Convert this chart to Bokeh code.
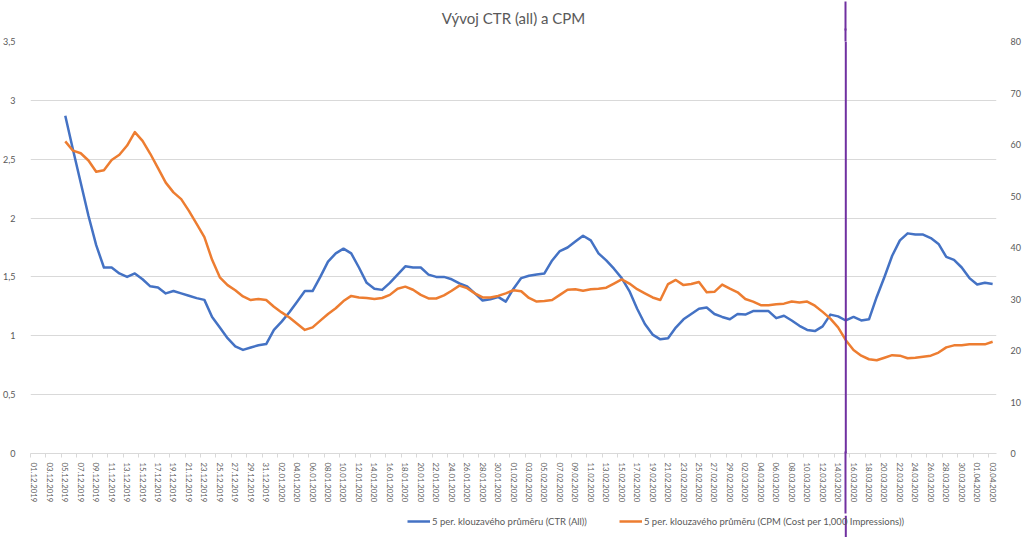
import numpy as np
import pandas as pd
from bokeh.plotting import figure
from bokeh.layouts import column
from bokeh.models import (Range1d, LinearAxis, FixedTicker, CustomJSTickFormatter,
                          Legend, LegendItem, Span, ColumnDataSource, Title)
from bokeh.embed import file_html
from bokeh.resources import INLINE

# ---------------- data ----------------
dates = [d.strftime("%d.%m.%Y") for d in pd.date_range("2019-12-01", "2020-04-03", freq="D")]
LEAD = 4  # moving average needs 4 previous days -> first 4 days empty

ctr = [2.87, 2.58, 2.30, 2.02, 1.77, 1.58, 1.58, 1.53, 1.50, 1.53,
       1.48, 1.42, 1.41, 1.36, 1.38, 1.36, 1.34, 1.32, 1.305, 1.16,
       1.07, 0.98, 0.91, 0.88, 0.90, 0.92, 0.93, 1.05, 1.12, 1.20,
       1.29, 1.38, 1.38, 1.50, 1.63, 1.70, 1.74, 1.70, 1.58, 1.45,
       1.40, 1.39, 1.45, 1.52, 1.59, 1.58, 1.58, 1.52, 1.50, 1.50,
       1.48, 1.445, 1.42, 1.36, 1.30, 1.31, 1.33, 1.29, 1.40, 1.49,
       1.51, 1.52, 1.53, 1.64, 1.72, 1.75, 1.80, 1.85, 1.81, 1.70,
       1.64, 1.57, 1.49, 1.38, 1.23, 1.10, 1.01, 0.97, 0.98, 1.07,
       1.14, 1.185, 1.23, 1.24, 1.185, 1.16, 1.14, 1.185, 1.18, 1.21,
       1.21, 1.21, 1.15, 1.17, 1.13, 1.085, 1.05, 1.04, 1.08, 1.18,
       1.165, 1.13, 1.16, 1.13, 1.14, 1.33, 1.50, 1.68, 1.81, 1.87,
       1.86, 1.86, 1.83, 1.78, 1.67, 1.645, 1.58, 1.49, 1.435, 1.45,
       1.44]

cpm = [60.6, 58.8, 58.3, 56.9, 54.7, 55.0, 57.0, 58.0, 59.8, 62.4,
       60.7, 58.2, 55.4, 52.6, 50.7, 49.4, 47.1, 44.6, 42.0, 37.6,
       34.2, 32.7, 31.7, 30.5, 29.8, 30.0, 29.8, 28.5, 27.4, 26.4,
       25.2, 24.0, 24.5, 25.8, 27.1, 28.2, 29.6, 30.6, 30.3, 30.2,
       30.0, 30.2, 30.8, 32.0, 32.4, 31.8, 30.8, 30.1, 30.1, 30.7,
       31.6, 32.6, 32.1, 31.1, 30.3, 30.3, 30.6, 31.1, 31.7, 31.5,
       30.2, 29.5, 29.6, 29.8, 30.8, 31.8, 31.9, 31.6, 31.9, 32.0,
       32.2, 33.0, 33.8, 33.0, 31.9, 31.1, 30.3, 29.8, 32.9, 33.7,
       32.7, 32.9, 33.3, 31.3, 31.4, 32.8, 32.0, 31.3, 30.0, 29.5,
       28.8, 28.8, 29.0, 29.1, 29.5, 29.3, 29.5, 28.7, 27.5, 26.2,
       24.5, 22.0, 20.1, 19.0, 18.3, 18.1, 18.6, 19.1, 19.0, 18.5,
       18.6, 18.8, 19.0, 19.6, 20.6, 21.0, 21.0, 21.2, 21.2, 21.2,
       21.7]

left_ticks = [0, 0.5, 1, 1.5, 2, 2.5, 3, 3.5]
right_ticks = [0, 10, 20, 30, 40, 50, 60, 70, 80]
marker_date = "15.03.2020"

title_text = "Vývoj CTR (all) a CPM"
ctr_label = "5 per. klouzavého průměru (CTR (All))"
cpm_label = "5 per. klouzavého průměru (CPM (Cost per 1,000 Impressions))"

# ---------------- styling ----------------
FONT = "Lato"
GRAY = "#595959"
GRID = "#d9d9d9"
BLUE = "#4472C4"
ORANGE = "#ED7D31"
PURPLE = "#7030A0"
W = 1024
MAIN_H = 515
LEG_H = 22
BORDER_L = 28
BORDER_R = 28

xs = list(range(len(dates)))
src = ColumnDataSource(dict(
    x=xs,
    ctr=[np.nan] * LEAD + ctr,
    cpm=[np.nan] * LEAD + cpm,
))
mi = dates.index(marker_date)

p = figure(width=W, height=MAIN_H, output_backend="svg", toolbar_location=None,
           x_range=Range1d(-0.5, len(dates) - 0.5),
           y_range=Range1d(left_ticks[0], left_ticks[-1]),
           min_border_left=BORDER_L, min_border_right=BORDER_R, min_border_top=41,
           min_border_bottom=62, title_location=None)
p.extra_y_ranges = {"cpm": Range1d(right_ticks[0], right_ticks[-1])}
p.outline_line_color = None

# left axis
ya = p.yaxis[0]
ya.ticker = FixedTicker(ticks=left_ticks)
ya.formatter = CustomJSTickFormatter(code="return tick.toString().replace('.', ',');")
ya.axis_line_color = None
ya.major_tick_line_color = None
ya.minor_tick_line_color = None
ya.major_label_text_font = FONT
ya.major_label_text_font_size = "9px"
ya.major_label_text_color = GRAY
ya.major_label_standoff = 9

# right axis
ra = LinearAxis(y_range_name="cpm", ticker=FixedTicker(ticks=right_ticks))
ra.axis_line_color = None
ra.major_tick_line_color = None
ra.minor_tick_line_color = None
ra.major_label_text_font = FONT
ra.major_label_text_font_size = "9px"
ra.major_label_text_color = GRAY
ra.major_label_standoff = 8
p.add_layout(ra, "right")

# x axis (dates, label every 2nd day, ticks at category boundaries)
xa = p.xaxis[0]
major = list(range(0, len(dates), 2))
xa.ticker = FixedTicker(ticks=major, minor_ticks=[i - 0.5 for i in range(0, len(dates) + 2, 2)])
xa.major_label_overrides = {i: dates[i] for i in major}
xa.major_label_orientation = "vertical"
xa.major_label_text_font = FONT
xa.major_label_text_font_size = "7.8px"
xa.major_label_text_color = GRAY
xa.major_label_standoff = 5
xa.major_tick_line_color = None
xa.major_tick_out = 0
xa.major_tick_in = 0
xa.minor_tick_line_color = GRID
xa.minor_tick_out = 4
xa.minor_tick_in = 0
xa.axis_line_color = GRID

p.xgrid.visible = False
p.ygrid.grid_line_color = GRID
p.ygrid.grid_line_width = 1

r1 = p.line("x", "ctr", source=src, line_color=BLUE, line_width=2.5, line_join="round")
r2 = p.line("x", "cpm", source=src, y_range_name="cpm", line_color=ORANGE,
            line_width=2.5, line_join="round")

# vertical marker line (frame part)
p.add_layout(Span(location=mi, dimension="height", line_color=PURPLE, line_width=2))


def marker_axis(place, tick_out, tick_in):
    ax = LinearAxis(ticker=FixedTicker(ticks=[mi]))
    ax.axis_line_color = None
    ax.major_tick_line_color = PURPLE
    ax.major_tick_line_width = 2
    ax.major_tick_in = tick_in
    ax.major_tick_out = tick_out
    ax.minor_tick_line_color = None
    ax.major_label_overrides = {mi: ""}
    ax.major_label_text_font_size = "1px"
    ax.major_label_standoff = 0
    p.add_layout(ax, place)


# below the frame: marker continues through the date labels
marker_axis("below", 8, 54)
# above the frame: marker segment, then title, then marker up to the top edge
marker_axis("above", 13, 0)
p.add_layout(Title(text=title_text, align="center", text_font=FONT,
                   text_font_size="15px", text_font_style="normal",
                   text_color=GRAY, standoff=4), "above")
marker_axis("above", 3, 26)

# legend strip underneath
lg = figure(width=W, height=LEG_H, output_backend="svg", toolbar_location=None,
            x_range=p.x_range, y_range=Range1d(0, 1),
            x_axis_type=None, y_axis_type=None,
            min_border_left=BORDER_L, min_border_right=BORDER_R,
            min_border_top=0, min_border_bottom=0)
lg.outline_line_color = None
lg.xgrid.visible = False
lg.ygrid.visible = False
k1 = lg.line(x=[np.nan], y=[np.nan], line_color=BLUE, line_width=2.5)
k2 = lg.line(x=[np.nan], y=[np.nan], line_color=ORANGE, line_width=2.5)
legend = Legend(items=[LegendItem(label=ctr_label, renderers=[k1]),
                       LegendItem(label=cpm_label, renderers=[k2])],
                orientation="horizontal", location=(377, 10),
                label_text_font=FONT, label_text_font_size="9.5px", label_text_color=GRAY,
                glyph_width=23, glyph_height=12, label_height=12, label_standoff=2,
                spacing=32, padding=0, margin=0,
                border_line_alpha=0, background_fill_alpha=0)
lg.add_layout(legend, "center")
lg.add_layout(Span(location=mi, dimension="height", line_color=PURPLE, line_width=2))

open("out.html", "w").write(file_html(column(p, lg, spacing=0), INLINE))
